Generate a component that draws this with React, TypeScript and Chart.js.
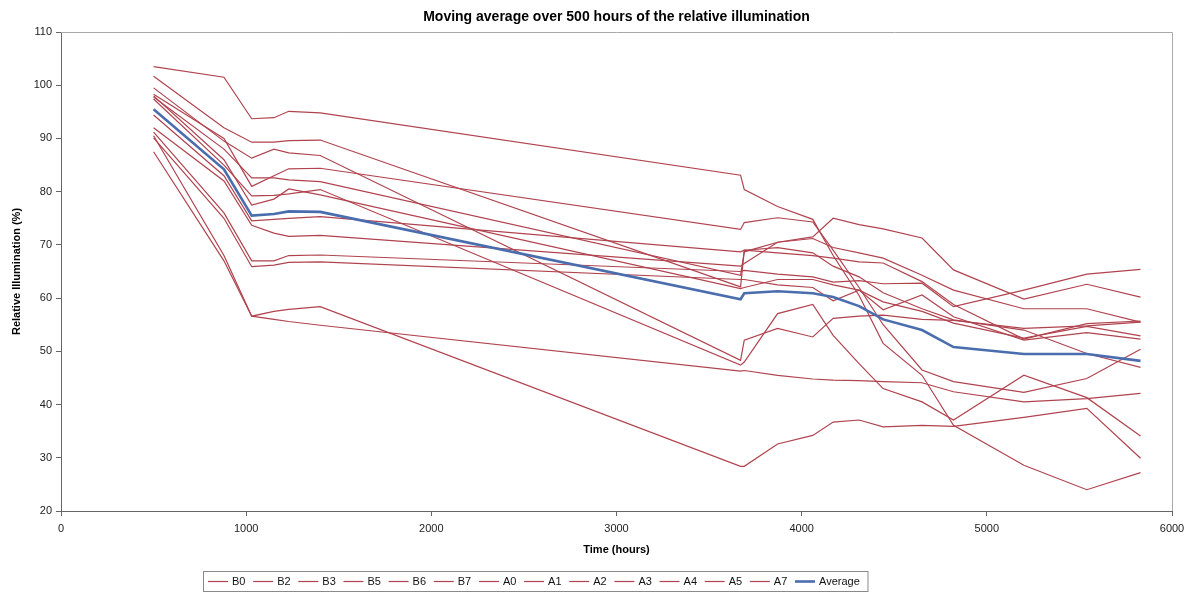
import React, { useEffect, useRef } from "react";
import { Chart, registerables } from "chart.js";

Chart.register(...registerables);

// Time axis (hours) shared by every series
const hours = [500, 880, 1030, 1150, 1230, 1400, 3670, 3690, 3870, 4060, 4170, 4310, 4440, 4650, 4820, 5200, 5540, 5830];

// Relative illumination (%) per lamp
const B0 = [103.5, 101.5, 93.7, 93.9, 95.1, 94.8, 83.1, 80.4, 77.2, 74.8, 68.0, 60.5, 51.5, 45.5, 36.1, 28.6, 24.0, 27.2];
const B2 = [101.7, 92.0, 89.3, 89.3, 89.6, 89.7, 62.1, 69.0, 69.5, 68.5, 66.0, 64.0, 61.0, 58.0, 55.9, 54.0, 49.6, 47.0];
const B3 = [99.5, 89.5, 86.3, 88.0, 87.3, 86.8, 48.3, 52.1, 54.3, 52.7, 56.2, 56.6, 56.8, 56.0, 55.8, 54.3, 54.8, 55.5];
const B5 = [98.3, 90.0, 81.0, 83.0, 84.3, 84.4, 72.9, 74.2, 75.1, 74.3, 69.0, 62.0, 55.0, 46.5, 44.3, 42.3, 44.9, 50.4];
const B6 = [97.8, 88.0, 82.6, 82.6, 82.2, 81.9, 64.3, 68.7, 70.5, 71.2, 69.5, 68.5, 67.5, 64.3, 61.5, 58.0, 58.0, 55.5];
const B7 = [97.4, 85.0, 79.2, 79.3, 79.6, 80.4, 47.4, 48.0, 57.1, 58.8, 53.0, 47.7, 43.0, 40.5, 37.1, 45.5, 41.3, 34.1];
const A0 = [98.0, 86.0, 77.5, 78.6, 80.5, 79.4, 61.8, 62.0, 63.5, 63.5, 62.5, 61.5, 59.3, 57.5, 55.3, 52.5, 54.7, 52.9];
const A1 = [94.4, 83.0, 74.5, 74.8, 75.0, 75.3, 68.7, 69.0, 68.5, 68.0, 67.5, 66.8, 66.6, 63.1, 58.8, 52.3, 55.2, 55.7];
const A2 = [92.0, 82.0, 73.7, 72.2, 71.6, 71.8, 66.0, 66.5, 70.5, 71.5, 75.0, 73.8, 73.0, 71.3, 65.3, 59.8, 62.6, 60.2];
const A3 = [91.2, 76.0, 67.0, 67.0, 68.0, 68.1, 65.0, 65.2, 64.5, 64.0, 63.0, 63.3, 62.7, 62.8, 58.4, 61.5, 64.5, 65.4];
const A4 = [90.1, 75.0, 65.9, 66.2, 66.7, 66.8, 63.5, 63.5, 62.5, 62.0, 59.5, 61.5, 57.8, 60.6, 56.5, 52.1, 53.5, 52.3];
const A5 = [90.5, 68.0, 56.6, 57.5, 57.9, 58.4, 28.4, 28.4, 32.6, 34.2, 36.7, 37.1, 35.8, 36.1, 35.9, 37.6, 39.3, 29.9];
const A7 = [87.5, 67.0, 56.6, 56.0, 55.6, 54.9, 46.3, 46.4, 45.5, 44.8, 44.6, 44.5, 44.3, 44.1, 42.4, 40.5, 41.1, 42.1];
const Average = [95.5, 84.2, 75.5, 75.8, 76.3, 76.2, 59.8, 60.9, 61.3, 60.9, 60.2, 58.5, 56.0, 54.0, 50.8, 49.5, 49.5, 48.2];

const lampNames = ["B0", "B2", "B3", "B5", "B6", "B7", "A0", "A1", "A2", "A3", "A4", "A5", "A7"];
const lampValues = [B0, B2, B3, B5, B6, B7, A0, A1, A2, A3, A4, A5, A7];

const xTicks = [0, 1000, 2000, 3000, 4000, 5000, 6000];
const yTicks = [20, 30, 40, 50, 60, 70, 80, 90, 100, 110];

const TITLE = "Moving average over 500 hours of the relative illumination";
const X_TITLE = "Time (hours)";
const Y_TITLE = "Relative Illumination (%)";

const RED = "#B0434E";
const BLUE = "#4A6DAE";
const FONT = '"Liberation Sans", Arial, sans-serif';

const toPoints = (vals: number[]) => vals.map((v, i) => ({ x: hours[i], y: v }));

const framePlugin = {
  id: "frame",
  beforeDatasetsDraw(chart: any) {
    const { ctx, chartArea } = chart;
    ctx.save();
    ctx.strokeStyle = "#a8a8a8";
    ctx.lineWidth = 1;
    ctx.beginPath();
    ctx.moveTo(chartArea.left, chartArea.top + 0.5);
    ctx.lineTo(chartArea.right + 0.5, chartArea.top + 0.5);
    ctx.lineTo(chartArea.right + 0.5, chartArea.bottom);
    ctx.stroke();
    ctx.restore();
  },
  afterDraw(chart: any) {
    const { ctx, chartArea } = chart;
    ctx.save();
    // title over the plot area
    ctx.fillStyle = "#000";
    ctx.font = `bold 14px ${FONT}`;
    ctx.textAlign = "center";
    ctx.textBaseline = "middle";
    ctx.fillText(TITLE, (chartArea.left + chartArea.right) / 2, 17);

    // boxed legend
    ctx.font = `11px ${FONT}`;
    ctx.textAlign = "left";
    const boxX = 203;
    const boxY = 571;
    const boxH = 20;
    const lineLen = 20;
    const gap = 4;
    const pad = 7.7;
    const items = chart.data.datasets.map((d: any) => ({
      label: d.label,
      color: d.borderColor,
      w: d.borderWidth,
    }));
    let total = 5;
    items.forEach((it: any) => {
      total += lineLen + gap + ctx.measureText(it.label).width + pad;
    });
    ctx.strokeStyle = "#8a8a8a";
    ctx.lineWidth = 1;
    ctx.strokeRect(boxX + 0.5, boxY + 0.5, total, boxH);
    let x = boxX + 5;
    const cy = boxY + boxH / 2 + 0.5;
    items.forEach((it: any) => {
      ctx.strokeStyle = it.color;
      ctx.lineWidth = it.w;
      ctx.beginPath();
      ctx.moveTo(x, cy);
      ctx.lineTo(x + lineLen, cy);
      ctx.stroke();
      ctx.fillStyle = "#111";
      ctx.fillText(it.label, x + lineLen + gap, cy + 0.5);
      x += lineLen + gap + ctx.measureText(it.label).width + pad;
    });
    ctx.restore();
  },
};

export default function App() {
  const ref = useRef<HTMLCanvasElement | null>(null);

  useEffect(() => {
    document.body.style.margin = "0";
    const canvas = ref.current;
    if (!canvas) return;

    const datasets: any[] = lampNames.map((name, i) => ({
      label: name,
      data: toPoints(lampValues[i]),
      borderColor: RED,
      backgroundColor: RED,
      borderWidth: 1.2,
      pointRadius: 0,
      tension: 0,
      fill: false,
      order: 100 - i,
    }));
    datasets.push({
      label: "Average",
      data: toPoints(Average),
      borderColor: BLUE,
      backgroundColor: BLUE,
      borderWidth: 2.6,
      pointRadius: 0,
      tension: 0,
      fill: false,
      order: 0,
    });

    const chart = new Chart(canvas, {
      type: "line",
      data: { datasets },
      plugins: [framePlugin],
      options: {
        responsive: false,
        animation: false,
        events: [],
        layout: { padding: { left: 0, right: 24, top: 32, bottom: 34 } },
        plugins: {
          legend: { display: false },
          title: { display: false },
          tooltip: { enabled: false },
        },
        scales: {
          x: {
            type: "linear",
            min: xTicks[0],
            max: xTicks[xTicks.length - 1],
            afterBuildTicks: (scale: any) => {
              scale.ticks = xTicks.map((v) => ({ value: v }));
            },
            afterFit: (scale: any) => {
              scale.height = 50;
            },
            ticks: {
              color: "#222",
              font: { family: FONT, size: 11 },
              padding: 6,
              maxRotation: 0,
              callback: (v: any) => String(v),
            },
            grid: {
              display: true,
              drawOnChartArea: false,
              drawTicks: true,
              tickLength: 5,
              color: "#666",
            },
            border: { display: true, color: "#666", width: 1 },
            title: {
              display: true,
              text: X_TITLE,
              color: "#000",
              font: { family: FONT, size: 11, weight: "bold" },
              padding: { top: 0, bottom: 4 },
            },
          },
          y: {
            type: "linear",
            min: yTicks[0],
            max: yTicks[yTicks.length - 1],
            afterBuildTicks: (scale: any) => {
              scale.ticks = yTicks.map((v) => ({ value: v }));
            },
            afterFit: (scale: any) => {
              scale.width = 61;
            },
            ticks: {
              color: "#222",
              font: { family: FONT, size: 11 },
              padding: 4,
              callback: (v: any) => String(v),
            },
            grid: {
              display: true,
              drawOnChartArea: false,
              drawTicks: true,
              tickLength: 5,
              color: "#666",
            },
            border: { display: true, color: "#666", width: 1 },
            title: {
              display: true,
              text: Y_TITLE,
              color: "#000",
              font: { family: FONT, size: 11, weight: "bold" },
              padding: { top: 10, bottom: 0 },
            },
          },
        },
      } as any,
    });

    return () => {
      chart.destroy();
    };
  }, []);

  return (
    <div style={{ width: 1196, height: 595, background: "#fff" }}>
      <canvas ref={ref} width={1196} height={595} />
    </div>
  );
}
